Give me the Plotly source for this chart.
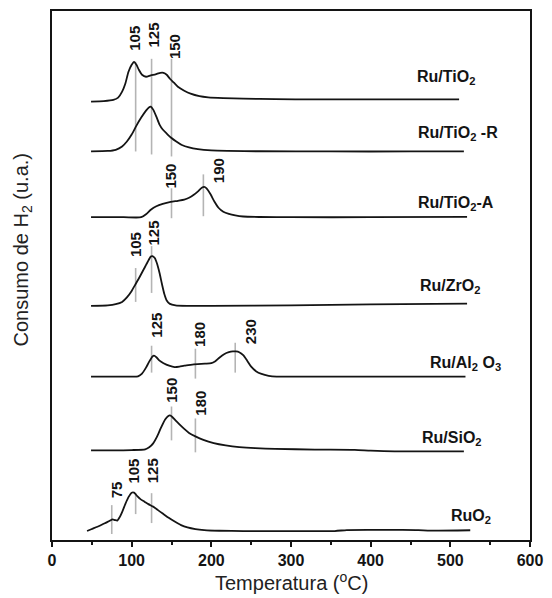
import plotly.graph_objects as go

# --- H2-TPR profiles: temperature (°C) and signal above each baseline (a.u.) ---
samples = ["Ru/TiO2", "Ru/TiO2-R", "Ru/TiO2-A", "Ru/ZrO2", "Ru/Al2O3", "Ru/SiO2", "RuO2"]
sample_labels = ["Ru/TiO<sub>2</sub>", "Ru/TiO<sub>2</sub> -R", "Ru/TiO<sub>2</sub>-A",
                 "Ru/ZrO<sub>2</sub>", "Ru/Al<sub>2</sub> O<sub>3</sub>", "Ru/SiO<sub>2</sub>",
                 "RuO<sub>2</sub>"]
baselines = [440, 390, 324, 235, 164, 90, 9]

t_tio2 = [49, 65, 77, 83, 88, 92, 96, 100, 103, 106, 109, 113, 118, 124, 130, 136, 140, 144,
          148, 153, 158, 166, 174, 185, 196, 215, 240, 280, 330, 400, 460, 511]
s_tio2 = [0, 0.5, 1.7, 4, 10, 18, 30, 37, 40, 37, 32, 27, 25, 26.5, 27.5, 29, 29, 27,
          23, 19, 15, 11, 8, 5.5, 4.3, 3.5, 3, 2.5, 2.3, 2.3, 2.3, 2.3]

t_tio2_r = [49, 70, 80, 88, 94, 100, 106, 112, 118, 122, 124, 127, 131, 135, 139, 144, 150,
            156, 163, 172, 183, 200, 220, 260, 350, 450, 517]
s_tio2_r = [0, 0.5, 1.7, 5, 10, 17, 26, 34, 41, 44.5, 45, 42, 35, 27, 22, 18, 13.5,
            10, 6.5, 4, 2.3, 1, 0.5, 0.2, 0, 0, 0]

t_tio2_a = [49, 90, 112, 118, 124, 131, 139, 149, 158, 166, 172, 178, 184, 188, 191, 194, 199,
            204, 209, 215, 222, 230, 240, 260, 300, 400, 521]
s_tio2_a = [0, 0, 0, 3, 7.5, 11, 13.3, 15.3, 16.5, 17.7, 19.5, 22.5, 26.5, 29.5, 30.5, 29, 23,
            15.5, 9.5, 5.5, 3.3, 1.8, 0.7, 0.2, 0, 0, 0.3]

t_zro2 = [49, 70, 80, 88, 94, 100, 105, 110, 116, 120, 124, 126, 129, 132, 135, 138, 141,
          144, 148, 155, 170, 200, 300, 400, 521]
s_zro2 = [0, 0.5, 1.7, 4, 8.5, 15, 22, 29, 38, 44, 49.5, 50, 48, 42, 33, 22, 12,
          5.5, 2, 0.5, 0, 0, 0.5, 1.5, 2.3]

t_al2o3 = [49, 100, 108, 113, 118, 122, 126, 128, 131, 135, 140, 147, 154, 160, 166, 174, 183,
           192, 200, 205, 210, 216, 222, 227, 231, 235, 240, 245, 250, 256, 263, 272, 282, 320, 519]
s_al2o3 = [0, 0, 0.3, 3, 9, 15, 20, 21, 19.5, 16, 13.5, 11, 9.5, 10, 11, 11.8, 12.5,
           13, 13.5, 15.5, 19, 22.5, 24.5, 25.3, 25.3, 24.5, 21.5, 16, 10, 5.5, 2.7, 0.8, 0, 0, 0]

t_sio2 = [49, 100, 117, 122, 127, 132, 137, 142, 146, 148, 151, 155, 160, 166, 172, 180, 190,
          203, 218, 235, 255, 280, 330, 380, 400, 430, 517]
s_sio2 = [0, 0.3, 1, 3, 7, 14, 23, 31, 34.5, 35, 33.5, 30, 26, 21.5, 17.5, 14, 10.5,
          7.3, 5, 3.3, 2.2, 1.5, 0.8, 0.5, -0.3, -1, -1]

t_ruo2 = [44, 50, 57, 63, 68, 72, 76, 79, 82, 85, 88, 92, 96, 100, 103, 107, 111, 116, 121, 127,
          133, 139, 146, 154, 162, 170, 180, 191, 210, 240, 300, 355, 370, 400, 440, 460, 475, 525]
s_ruo2 = [0, 2, 4.3, 6.5, 8.5, 10, 11.7, 11, 10.5, 14, 19, 27, 34, 38.5, 38.5, 35, 32, 29.5, 27,
          24.5, 21, 17.5, 13.5, 9.5, 6, 3.7, 2, 1, 0.3, 0, 0, 0, 1, 1.2, 1.2, 1, 0.4, 0.8]

temps = [t_tio2, t_tio2_r, t_tio2_a, t_zro2, t_al2o3, t_sio2, t_ruo2]
signals = [s_tio2, s_tio2_r, s_tio2_a, s_zro2, s_al2o3, s_sio2, s_ruo2]

# Peak-maximum markers: temperature, lower and upper end of the guide line
peak_temps = [105, 125, 150, 150, 190, 105, 125, 125, 180, 230, 150, 180, 75, 105, 125]
peak_lo = [390, 387, 385, 323, 325, 239, 248, 168, 162, 168, 100, 88, 6, 26, 17]
peak_hi = [480, 483, 483, 353, 367, 273, 295, 195, 192, 198, 134, 122, 35, 47, 47]
# where each peak value is written (rotated text)
peak_label_x = [104, 127.5, 154, 149, 210, 104.8, 127.8, 131, 185.3, 249, 149, 185.3, 80.4, 102.7, 126.2]
peak_label_y = [504, 507, 495.5, 365.5, 370.5, 296.5, 308.5, 215.5, 206.5, 209, 150.5, 137.5, 50, 69.5, 69.5]

# sample name positions
name_x = [455.4, 457.5, 457.5, 459.5, 472, 461.6, 498.8]
name_y = [464, 408, 338, 254, 177, 102, 24]

x_ticks = [0, 100, 200, 300, 400, 500, 600]

FONT = "Liberation Sans, Arial, sans-serif"
INK = "#141414"

fig = go.Figure()

for t, lo, hi in zip(peak_temps, peak_lo, peak_hi):
    fig.add_trace(go.Scatter(x=[t, t], y=[lo, hi], mode="lines",
                             line=dict(color="#b4b4b4", width=1.6),
                             hoverinfo="skip", showlegend=False))

for name, t, s, b in zip(samples, temps, signals, baselines):
    fig.add_trace(go.Scatter(x=t, y=[b + v for v in s], mode="lines", name=name,
                             line=dict(color=INK, width=1.8, shape="spline", smoothing=0.6),
                             showlegend=False))

for t, x, y in zip(peak_temps, peak_label_x, peak_label_y):
    fig.add_annotation(x=x, y=y, xref="x", yref="y", text=f"<b>{t}</b>", textangle=-90,
                       showarrow=False, xanchor="center", yanchor="middle",
                       font=dict(family=FONT, size=15, color=INK))

for lab, x, y in zip(sample_labels, name_x, name_y):
    fig.add_annotation(x=x, y=y, xref="x", yref="y", text=f"<b>{lab}</b>",
                       showarrow=False, xanchor="left", yanchor="middle",
                       font=dict(family=FONT, size=16, color=INK))

# axis titles
fig.add_annotation(x=0.5, y=-0.079, xref="paper", yref="paper",
                   text="Temperatura (<sup>o</sup>C)", showarrow=False,
                   xanchor="center", yanchor="middle",
                   font=dict(family=FONT, size=20, color="#222"))
fig.add_annotation(x=-0.062, y=0.548, xref="paper", yref="paper",
                   text="Consumo de H<sub>2</sub> (u.a.)", textangle=-90, showarrow=False,
                   xanchor="center", yanchor="middle",
                   font=dict(family=FONT, size=20, color="#222"))

fig.update_layout(
    width=552, height=598,
    margin=dict(l=52, r=15, t=9, b=58),
    paper_bgcolor="white", plot_bgcolor="white",
    showlegend=False,
    xaxis=dict(range=[0, 600], tickvals=x_ticks, ticktext=[f"<b>{v}</b>" for v in x_ticks],
               ticks="outside", ticklen=5, tickwidth=1.5, tickcolor=INK,
               minor=dict(dtick=50, ticks="outside", ticklen=3, tickwidth=1.5, tickcolor=INK),
               showline=True, linewidth=2, linecolor=INK, mirror=True,
               showgrid=False, zeroline=False,
               tickfont=dict(family=FONT, size=16, color=INK)),
    yaxis=dict(range=[0, 531], showticklabels=False, ticks="",
               showline=True, linewidth=2, linecolor=INK, mirror=True,
               showgrid=False, zeroline=False),
)

fig.write_html("out.html")
